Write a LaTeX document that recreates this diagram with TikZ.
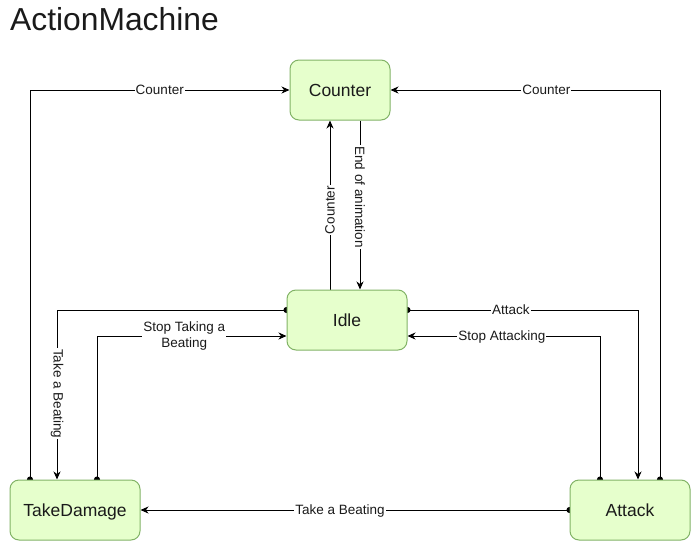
\documentclass[tikz,border=0pt]{standalone}
\usepackage{fontspec}
\setmainfont{Liberation Sans}
\usetikzlibrary{arrows.meta,backgrounds}
\definecolor{boxfill}{HTML}{E6FFCC}
\definecolor{boxdraw}{HTML}{82B366}
\definecolor{txt}{HTML}{1A1A1A}
\tikzset{
 state/.style={draw=boxdraw, fill=boxfill, rounded corners=9pt, line width=1pt,
   minimum height=60pt, text=txt, font=\fontsize{17.5}{21}\selectfont, inner sep=0pt,
   text height=12.6pt, text depth=0pt},
 tipend/.tip={Stealth[length=8pt,width=7pt,inset=2.5pt]},
 edge/.style={line width=1pt, draw=black, {Circle[length=6pt]}-tipend, shorten <=-3pt},
 plainedge/.style={line width=1pt, draw=black, -tipend},
 lbl/.style={fill=white, font=\fontsize{13.5}{15.5}\selectfont, inner sep=1pt, text=txt, align=center},
}
\begin{document}
\begin{tikzpicture}[x=1pt,y=-1pt]
\useasboundingbox (0,0) rectangle (691,541);
\node[anchor=base west, font=\fontsize{31.8}{36}\selectfont, text=txt, inner sep=0pt] (title) at (10,30) {ActionMachine};
\node[state, minimum width=100pt] (counter) at (340,90) {Counter};
\node[state, minimum width=120pt] (idle) at (347,320) {Idle};
\node[state, minimum width=130pt] (td) at (75,510) {TakeDamage};
\node[state, minimum width=120pt] (attack) at (630,510) {Attack};
\begin{pgfonlayer}{background}
\draw[edge] ([xshift=-45pt]td.north) |- node[lbl, pos=0.75] {Counter} (counter.west);
\draw[edge] ([xshift=30pt]attack.north) |- node[lbl, pos=0.711] {Counter} (counter.east);
\draw[plainedge] ([xshift=-17pt]idle.north) -- node[lbl, pos=0.47, rotate=90] {Counter} ([xshift=-10pt]counter.south);
\draw[plainedge] ([xshift=20pt]counter.south) -- node[lbl, pos=0.453, rotate=-90] {End of animation} ([xshift=13pt]idle.north);
\draw[edge] ([yshift=10pt]idle.west) -| node[lbl, pos=0.747, rotate=-90] {Take a Beating} ([xshift=-18pt]td.north);
\draw[edge] ([xshift=22pt]td.north) |- node[lbl, pos=0.73] {Stop Taking a\\Beating} ([yshift=-16pt]idle.west);
\draw[edge] ([yshift=10pt]idle.east) -| node[lbl, pos=0.224] {Attack} ([xshift=8pt]attack.north);
\draw[edge] ([xshift=-30pt]attack.north) |- node[lbl, pos=0.755, yshift=-1pt] {Stop Attacking} ([yshift=-16pt]idle.east);
\draw[edge] (attack.west) -- node[lbl, pos=0.535, yshift=-1pt] {Take a Beating} (td.east);
\end{pgfonlayer}
\end{tikzpicture}
\end{document}
